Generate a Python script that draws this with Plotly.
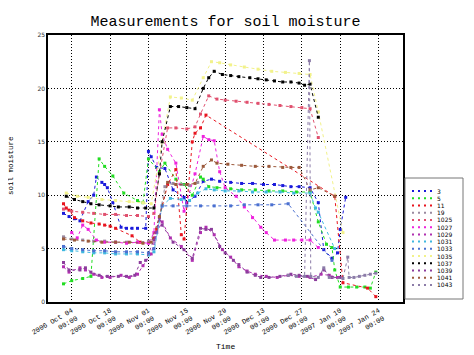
import plotly.graph_objects as go

# ---------------- data ----------------
names = ["3", "5", "11", "19", "1025", "1027", "1029", "1031", "1033", "1035", "1037", "1039", "1041", "1043"]
colors = ["#1a1adb", "#22dd22", "#e8141e", "#9a8aa0", "#e0506e", "#ee22dd", "#b030b0",
          "#40b8e0", "#4b70d0", "#f2f28a", "#000000", "#8c3c9c", "#9c5a3c", "#8c7ca8"]

tick_dates = ["2006-10-04", "2006-10-18", "2006-11-01", "2006-11-15", "2006-11-29",
              "2006-12-13", "2006-12-27", "2007-01-10", "2007-01-24"]
tick_labels = ["2006 Oct 04<br>00:00", "2006 Oct 18<br>00:00", "2006 Nov 01<br>00:00",
               "2006 Nov 15<br>00:00", "2006 Nov 29<br>00:00", "2006 Dec 13<br>00:00",
               "2006 Dec 27<br>00:00", "2007 Jan 10<br>00:00", "2007 Jan 24<br>00:00"]

d_3 = ["2006-10-01", "2006-10-03", "2006-10-05", "2006-10-07", "2006-10-10", "2006-10-12", "2006-10-13",
       "2006-10-15", "2006-10-16", "2006-10-17", "2006-10-19", "2006-10-22", "2006-10-24", "2006-10-26",
       "2006-10-28", "2006-10-31", "2006-11-01", "2006-11-02", "2006-11-04", "2006-11-07", "2006-11-10",
       "2006-11-14", "2006-11-15", "2006-11-18", "2006-11-21", "2006-11-24", "2006-11-27", "2006-12-01",
       "2006-12-05", "2006-12-09", "2006-12-13", "2006-12-17", "2006-12-20", "2006-12-23", "2006-12-26",
       "2006-12-30", "2007-01-02", "2007-01-04", "2007-01-07", "2007-01-09", "2007-01-10", "2007-01-12"]
v_3 = [8.3, 8.0, 7.8, 7.6, 9.4, 10.0, 11.7,
       11.2, 11.0, 10.7, 9.3, 7.0, 6.9, 6.9,
       6.9, 6.9, 14.1, 13.6, 12.6, 12.5, 10.5,
       9.8, 9.3, 9.9, 11.3, 11.5, 11.3, 11.2,
       11.1, 11.1, 11.0, 11.0, 10.9, 10.8, 10.8,
       10.7, 9.3, 4.9, 4.1, 4.6, 6.8, 9.8]

d_5 = ["2006-10-01", "2006-10-04", "2006-10-08", "2006-10-11", "2006-10-14", "2006-10-16", "2006-10-19",
       "2006-10-23", "2006-10-28", "2006-10-30", "2006-11-01", "2006-11-05", "2006-11-07", "2006-11-11",
       "2006-11-14", "2006-11-17", "2006-11-20", "2006-11-21", "2006-11-23", "2006-11-26", "2006-12-01",
       "2006-12-05", "2006-12-10", "2006-12-15", "2006-12-20", "2006-12-25", "2006-12-30", "2007-01-02",
       "2007-01-05", "2007-01-07", "2007-01-08", "2007-01-10", "2007-01-13", "2007-01-16", "2007-01-19",
       "2007-01-21", "2007-01-23"]
v_5 = [1.7, 2.0, 2.2, 2.4, 13.4, 12.7, 11.8,
       10.2, 9.5, 9.3, 13.4, 12.2, 13.0, 11.5,
       11.0, 10.0, 11.7, 11.5, 10.8, 10.7, 10.6,
       10.5, 10.5, 10.4, 10.4, 10.3, 10.3, 7.5,
       5.4, 5.1, 3.0, 1.4, 1.4, 1.4, 1.4,
       1.3, 2.8]

d_11 = ["2006-10-01", "2006-10-02", "2006-10-03", "2006-10-05", "2006-10-08", "2006-10-11", "2006-10-14",
        "2006-10-16", "2006-10-18", "2006-10-20", "2006-10-26", "2006-10-29", "2006-11-01", "2006-11-03",
        "2006-11-04", "2006-11-08", "2006-11-11", "2006-11-13", "2006-11-14", "2006-11-17", "2006-11-18",
        "2006-11-20", "2006-11-22", "2007-01-08", "2007-01-11", "2007-01-20", "2007-01-23"]
v_11 = [9.2, 8.8, 8.6, 7.9, 7.6, 7.4, 7.3,
        7.2, 7.1, 6.9, 6.2, 5.6, 5.6, 6.0,
        6.8, 11.0, 12.4, 6.3, 5.9, 15.0, 15.8,
        16.3, 17.5, 9.9, 1.8, 1.3, 0.5]

d_19 = ["2006-10-01", "2006-10-04", "2006-10-08", "2006-10-12", "2006-10-16", "2006-10-20", "2006-10-24",
        "2006-10-28", "2006-11-01", "2006-11-04", "2006-11-07", "2006-11-10", "2006-11-13", "2006-11-16",
        "2006-11-19"]
v_19 = [6.1, 5.9, 5.8, 5.7, 5.7, 5.6, 5.6,
        5.6, 5.7, 6.5, 10.8, 11.1, 11.0, 10.9,
        11.2]

d_1025 = ["2006-10-01", "2006-10-04", "2006-10-08", "2006-10-12", "2006-10-16", "2006-10-20", "2006-10-24",
          "2006-10-28", "2006-11-01", "2006-11-03", "2006-11-05", "2006-11-08", "2006-11-11", "2006-11-15",
          "2006-11-18", "2006-11-20", "2006-11-23", "2006-11-26", "2006-11-29", "2006-12-03", "2006-12-07",
          "2006-12-11", "2006-12-15", "2006-12-19", "2006-12-23", "2006-12-27", "2006-12-30", "2007-01-02"]
v_1025 = [8.7, 8.5, 8.4, 8.3, 8.2, 8.2, 8.1,
          8.1, 8.0, 8.3, 12.0, 16.3, 16.3, 16.2,
          16.4, 17.6, 19.3, 19.0, 18.9, 18.8, 18.7,
          18.6, 18.5, 18.4, 18.3, 18.2, 18.1, 15.4]

d_1027 = ["2006-10-04", "2006-10-06", "2006-10-08", "2006-10-10", "2006-10-13", "2006-10-16", "2006-10-20",
          "2006-10-24", "2006-10-28", "2006-11-01", "2006-11-03", "2006-11-05", "2006-11-06", "2006-11-08",
          "2006-11-11", "2006-11-14", "2006-11-18", "2006-11-21", "2006-11-23", "2006-11-25", "2006-11-27",
          "2006-11-29", "2006-12-03", "2006-12-06", "2006-12-09", "2006-12-12", "2006-12-14", "2006-12-17",
          "2006-12-21", "2006-12-24", "2006-12-27", "2006-12-30", "2007-01-02"]
v_1027 = [6.5, 6.0, 7.2, 6.8, 5.8, 5.6, 5.6,
          5.5, 5.6, 5.5, 6.5, 18.0, 15.7, 14.3,
          13.0, 8.5, 12.0, 15.5, 15.2, 15.1, 12.2,
          10.7, 9.9, 8.9, 7.9, 7.0, 6.5, 5.8,
          5.8, 5.8, 5.8, 5.8, 5.1]

d_1029 = ["2006-10-01", "2006-10-03", "2006-10-07", "2006-10-09", "2006-10-12", "2006-10-15", "2006-10-18",
          "2006-10-22", "2006-10-25", "2006-10-28", "2006-10-30", "2006-11-02", "2006-11-04", "2006-11-06",
          "2006-11-09", "2006-11-13", "2006-11-17", "2006-11-20", "2006-11-22", "2006-11-25", "2006-11-28",
          "2006-12-01", "2006-12-04", "2006-12-07", "2006-12-10", "2006-12-14", "2006-12-18", "2006-12-22",
          "2006-12-26", "2006-12-30", "2007-01-03", "2007-01-06", "2007-01-09"]
v_1029 = [3.3, 2.8, 3.2, 3.0, 2.6, 2.3, 2.3,
          2.5, 2.3, 2.6, 3.4, 4.5, 6.5, 7.5,
          6.0, 5.2, 3.9, 6.5, 7.0, 6.3, 4.9,
          4.2, 3.3, 2.9, 2.6, 2.4, 2.3, 2.5,
          2.4, 2.3, 2.6, 2.5, 2.3]

d_1031 = ["2006-10-01", "2006-10-04", "2006-10-08", "2006-10-12", "2006-10-16", "2006-10-20", "2006-10-24",
          "2006-10-28", "2006-11-01", "2006-11-03", "2006-11-06", "2006-11-09", "2006-11-13", "2006-11-16",
          "2006-11-19", "2006-11-22", "2006-11-25", "2006-11-29", "2006-12-04", "2006-12-09", "2006-12-14",
          "2006-12-19", "2006-12-24", "2006-12-30", "2007-01-01", "2007-01-02", "2007-01-08"]
v_1031 = [4.9, 4.8, 4.7, 4.6, 4.6, 4.5, 4.5,
          4.5, 4.4, 4.7, 9.0, 9.7, 9.6, 9.5,
          10.2, 10.6, 10.5, 10.4, 10.4, 10.3, 10.3,
          10.3, 10.2, 10.2, 8.8, 8.4, 5.0]

d_1033 = ["2006-10-01", "2006-10-04", "2006-10-08", "2006-10-12", "2006-10-16", "2006-10-20", "2006-10-24",
          "2006-10-28", "2006-11-01", "2006-11-03", "2006-11-06", "2006-11-10", "2006-11-15", "2006-11-20",
          "2006-11-25", "2006-12-01", "2006-12-06", "2006-12-11", "2006-12-16", "2006-12-22", "2007-01-07"]
v_1033 = [5.2, 5.0, 4.9, 4.8, 4.8, 4.7, 4.7,
          4.7, 4.6, 5.0, 9.0, 9.0, 9.0, 9.0,
          9.0, 9.0, 9.1, 9.1, 9.1, 9.2, 3.9]

d_1035 = ["2006-10-02", "2006-10-06", "2006-10-10", "2006-10-15", "2006-10-20", "2006-10-25", "2006-10-30",
          "2006-11-02", "2006-11-06", "2006-11-09", "2006-11-13", "2006-11-17", "2006-11-21", "2006-11-24",
          "2006-11-27", "2006-12-01", "2006-12-06", "2006-12-11", "2006-12-16", "2006-12-21", "2006-12-26",
          "2006-12-30", "2007-01-02", "2007-01-11"]
v_1035 = [10.2, 9.9, 9.8, 9.6, 9.5, 9.4, 9.3,
          9.2, 15.0, 19.2, 19.1, 18.9, 21.0, 22.5,
          22.4, 22.2, 22.0, 21.8, 21.6, 21.5, 21.4,
          21.3, 17.8, 6.5]

d_1037 = ["2006-10-02", "2006-10-05", "2006-10-08", "2006-10-11", "2006-10-14", "2006-10-18", "2006-10-21",
          "2006-10-25", "2006-10-28", "2006-10-31", "2006-11-03", "2006-11-05", "2006-11-06", "2006-11-09",
          "2006-11-12", "2006-11-15", "2006-11-18", "2006-11-21", "2006-11-23", "2006-11-25", "2006-11-28",
          "2006-12-01", "2006-12-04", "2006-12-08", "2006-12-11", "2006-12-14", "2006-12-17", "2006-12-20",
          "2006-12-23", "2006-12-26", "2006-12-28", "2006-12-30", "2007-01-02"]
v_1037 = [9.9, 9.6, 9.4, 9.2, 9.1, 9.0, 8.9,
          8.9, 8.8, 8.8, 8.8, 12.0, 15.0, 18.3,
          18.3, 18.2, 18.1, 20.0, 21.0, 21.6, 21.3,
          21.2, 21.1, 21.0, 20.9, 20.8, 20.7, 20.6,
          20.6, 20.5, 20.3, 20.4, 17.3]

d_1039 = ["2006-10-01", "2006-10-03", "2006-10-07", "2006-10-09", "2006-10-11", "2006-10-14", "2006-10-17",
          "2006-10-21", "2006-10-24", "2006-10-27", "2006-10-29", "2006-10-31", "2006-11-03", "2006-11-05",
          "2006-11-06", "2006-11-10", "2006-11-14", "2006-11-17", "2006-11-20", "2006-11-22", "2006-11-24",
          "2006-11-27", "2006-11-29", "2006-12-02", "2006-12-04", "2006-12-07", "2006-12-10", "2006-12-12",
          "2006-12-15", "2006-12-19", "2006-12-23", "2006-12-26", "2006-12-29", "2007-01-01", "2007-01-04",
          "2007-01-07", "2007-01-10"]
v_1039 = [3.7, 3.0, 3.0, 3.2, 2.8, 2.5, 2.4,
          2.4, 2.4, 2.5, 3.7, 3.9, 5.8, 7.9,
          7.2, 5.6, 4.9, 4.1, 6.9, 6.8, 6.8,
          5.2, 4.6, 3.9, 3.5, 2.8, 2.5, 2.3,
          2.3, 2.4, 2.6, 2.5, 2.4, 2.1, 3.0,
          2.3, 2.3]

d_1041 = ["2006-10-01", "2006-10-05", "2006-10-10", "2006-10-15", "2006-10-20", "2006-10-25", "2006-10-30",
          "2006-11-02", "2006-11-05", "2006-11-08", "2006-11-11", "2006-11-15", "2006-11-18", "2006-11-21",
          "2006-11-24", "2006-11-26", "2006-11-30", "2006-12-05", "2006-12-10", "2006-12-15", "2006-12-20",
          "2006-12-23", "2006-12-26", "2006-12-30", "2007-01-02", "2007-01-08"]
v_1041 = [5.9, 5.8, 5.7, 5.6, 5.6, 5.6, 5.5,
          5.6, 8.0, 11.2, 11.0, 11.0, 11.1, 12.7,
          13.3, 13.0, 12.9, 12.8, 12.7, 12.7, 12.6,
          12.6, 12.6, 10.5, 10.7, 9.9]

d_1043 = ["2006-12-22", "2006-12-25", "2006-12-28", "2006-12-29 18:00", "2006-12-30 06:00", "2007-01-02",
          "2007-01-04", "2007-01-06", "2007-01-11", "2007-01-12 18:00", "2007-01-13 06:00", "2007-01-15",
          "2007-01-17", "2007-01-19", "2007-01-21", "2007-01-23"]
v_1043 = [2.5, 2.4, 2.4, 22.6, 2.4, 2.3,
          3.2, 2.3, 2.2, 4.2, 2.3, 2.3,
          2.4, 2.5, 2.6, 2.7]

all_dates = [d_3, d_5, d_11, d_19, d_1025, d_1027, d_1029, d_1031, d_1033, d_1035, d_1037, d_1039, d_1041, d_1043]
all_values = [v_3, v_5, v_11, v_19, v_1025, v_1027, v_1029, v_1031, v_1033, v_1035, v_1037, v_1039, v_1041, v_1043]

# ---------------- figure ----------------
# the page body has an 8px margin, so the figure is placed at (8, 8) in the window
OFF = 8
W, H = 474 - OFF, 355 - OFF
L, R, T, B = 48 - OFF, 71, 35 - OFF, 53
PW, PH = W - L - R, H - T - B

fig = go.Figure()
for name, color, d, v in zip(names, colors, all_dates, all_values):
    assert len(d) == len(v), name
    fig.add_trace(go.Scatter(
        x=d, y=v, mode="lines+markers", name=name, showlegend=False,
        line=dict(color=color, width=1, dash="dot"),
        marker=dict(symbol="square", size=3, color=color, line=dict(width=0)),
    ))

mono = "Liberation Mono"

fig.update_layout(
    width=W, height=H,
    margin=dict(l=L, r=R, t=T, b=B),
    paper_bgcolor="white", plot_bgcolor="white",
    showlegend=False,
    title=dict(text="Measurements for soil moisture", xref="container", yref="container",
               x=(225.5 - OFF) / W, y=1 - (21 - OFF) / H, xanchor="center", yanchor="middle",
               font=dict(family=mono, size=15, color="black")),
)
fig.update_xaxes(
    type="date", range=["2006-09-25 08:00", "2007-02-01 22:00"],
    tickmode="array", tickvals=tick_dates, ticktext=tick_labels, tickangle=-30,
    tickfont=dict(family=mono, size=7, color="black"),
    showgrid=True, gridcolor="black", griddash="1px,2px", gridwidth=1,
    showline=True, mirror=True, linecolor="black", linewidth=1.5,
    ticks="", zeroline=False, automargin=False,
)
fig.update_yaxes(
    range=[0, 25], tickmode="array", tickvals=[0, 5, 10, 15, 20, 25],
    tickfont=dict(family="DejaVu Sans", size=6, color="#333333"),
    showgrid=True, gridcolor="black", griddash="1px,2px", gridwidth=1,
    showline=True, mirror=True, linecolor="black", linewidth=1.5,
    ticks="", zeroline=False, automargin=False,
)

def px_x(p):
    return (p - OFF - L) / PW

def px_y(p):
    return (H - B - (p - OFF)) / PH

annotations = [
    dict(text="Time", xref="paper", yref="paper", x=px_x(225.5), y=px_y(346),
         xanchor="center", yanchor="middle", showarrow=False,
         font=dict(family=mono, size=8, color="black")),
    dict(text="soil moisture", xref="paper", yref="paper", x=px_x(11), y=px_y(166),
         xanchor="center", yanchor="middle", textangle=-90, showarrow=False,
         font=dict(family=mono, size=7.5, color="black")),
]
shapes = [
    dict(type="rect", xref="paper", yref="paper", x0=px_x(405), x1=px_x(463),
         y0=px_y(299), y1=px_y(178), line=dict(color="#777777", width=1), fillcolor="white"),
]
for i, (name, color) in enumerate(zip(names, colors)):
    yy = px_y(191 + 7.23 * i)
    shapes.append(dict(type="line", xref="paper", yref="paper", x0=px_x(412), x1=px_x(432),
                       y0=yy, y1=yy, line=dict(color=color, width=2, dash="2px,4px")))
    annotations.append(dict(text=name, xref="paper", yref="paper", x=px_x(435), y=yy,
                            xanchor="left", yanchor="middle", showarrow=False,
                            font=dict(family="DejaVu Sans", size=6, color="black")))

fig.update_layout(annotations=annotations, shapes=shapes)
fig.write_html("out.html")
